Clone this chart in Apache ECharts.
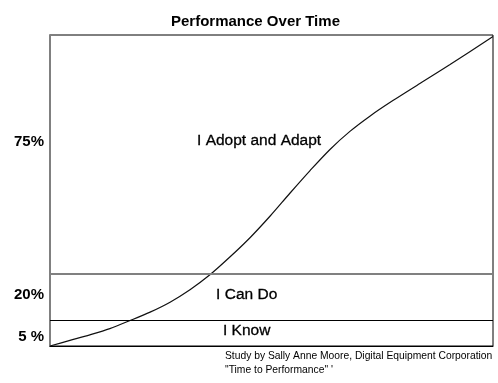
<!DOCTYPE html>
<html>
<head>
<meta charset="utf-8">
<script src="https://cdn.jsdelivr.net/npm/echarts@6/dist/echarts.min.js"></script>
<style>
html,body{margin:0;padding:0;background:#fff;}
#chart{width:498px;height:383px;}
</style>
</head>
<body>
<div id="chart"></div>
<script>
// Performance curve (time 0-100, performance 0-100)
var curveX = [0, 4.5, 9.0, 13.5, 18.1, 22.6, 27.1, 31.6, 36.1, 40.6, 45.2, 49.7, 54.2, 58.7, 63.2, 67.7, 72.2, 77.4, 83.5, 90.3, 100];
var curveY = [0, 1.8, 3.6, 5.6, 8.2, 10.9, 14.1, 18.1, 22.9, 28.6, 34.9, 41.8, 49.2, 56.4, 63.2, 69.0, 73.9, 78.9, 84.4, 90.5, 99.5];

// Band boundaries
var bandLevels = [23.15, 8.36];

// Band names and their label positions
var bandNames = ["I Adopt and Adapt", "I Can Do", "I Know"];
var bandLabelX = [47.2, 44.4, 44.4];
var bandLabelY = [65.9, 16.4, 4.8];

// Y axis labels
var tickValues = [2.9, 16.3, 65.8];
var tickLabels = ["5 %", "20%", "75%"];

var titleText = "Performance Over Time";
var notes = ["Study by Sally Anne Moore, Digital Equipment Corporation", "\"Time to Performance\" '"];

var FONT = "'Liberation Sans', Arial, sans-serif";

var chart = echarts.init(document.getElementById('chart'), null, {renderer: 'canvas'});
chart.setOption({
  animation: false,
  backgroundColor: '#fff',
  title: {
    text: titleText,
    left: 171,
    top: 14,
    padding: 0,
    textStyle: {fontFamily: FONT, fontSize: 15, fontWeight: 'bold', color: '#000'}
  },
  grid: {
    left: 50, right: 5, top: 35, bottom: 37,
    show: true, borderColor: '#000', borderWidth: 1, backgroundColor: '#fff'
  },
  xAxis: {
    type: 'value', min: 0, max: 100,
    axisLine: {show: true, lineStyle: {color: '#000', width: 1}},
    axisTick: {show: false}, axisLabel: {show: false}, splitLine: {show: false}
  },
  yAxis: {
    type: 'value', min: 0, max: 100,
    axisLine: {show: true, lineStyle: {color: '#808080', width: 2}},
    axisTick: {show: false},
    splitLine: {show: false},
    axisLabel: {
      show: true,
      customValues: tickValues,
      margin: 6,
      fontFamily: FONT, fontSize: 15, fontWeight: 'bold', color: '#000',
      formatter: function (v) {
        for (var i = 0; i < tickValues.length; i++) {
          if (Math.abs(tickValues[i] - v) < 1e-6) return tickLabels[i];
        }
        return '';
      }
    }
  },
  series: [
    {
      type: 'line',
      data: curveX.map(function (x, i) { return [x, curveY[i]]; }),
      smooth: 0.3,
      showSymbol: false,
      silent: true,
      lineStyle: {color: '#111', width: 1.2},
      markLine: {
        silent: true,
        symbol: 'none',
        label: {show: false},
        data: [
          {yAxis: bandLevels[0], lineStyle: {color: '#808080', width: 2, type: 'solid'}},
          {yAxis: bandLevels[1], lineStyle: {color: '#000', width: 1, type: 'solid'}}
        ]
      }
    },
    {
      type: 'scatter',
      symbolSize: 0,
      silent: true,
      itemStyle: {opacity: 1, color: '#000'},
      data: bandNames.map(function (n, i) { return {name: n, value: [bandLabelX[i], bandLabelY[i]]}; }),
      label: {
        show: true, position: 'inside',
        formatter: function (p) { return p.name; },
        fontFamily: FONT, fontSize: 15.5, color: '#000', opacity: 1,
        textBorderColor: '#000', textBorderWidth: 0.3
      }
    }
  ],
  graphic: [
    {type: 'text', left: 225, top: 351, silent: true,
     style: {text: notes[0], fontFamily: FONT, fontSize: 10.3, fill: '#000'}},
    {type: 'text', left: 225, top: 365, silent: true,
     style: {text: notes[1], fontFamily: FONT, fontSize: 10.3, fill: '#000'}}
  ]
});
</script>
</body>
</html>
